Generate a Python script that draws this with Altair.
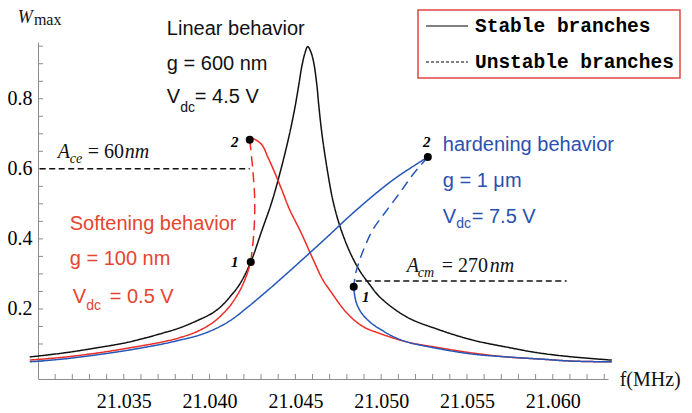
import altair as alt
import pandas as pd

# ---------------- data ----------------
black_f = [21.02952, 21.03145, 21.03343, 21.03535, 21.03727, 21.03826, 21.03925, 21.04019,
           21.04071, 21.04118, 21.04176, 21.04240, 21.04304, 21.04363, 21.04415, 21.04462,
           21.04497, 21.04520, 21.04537, 21.04555, 21.04572, 21.04590, 21.04607, 21.04625,
           21.04636, 21.04654, 21.04683, 21.04718, 21.04759, 21.04817, 21.04875, 21.04934,
           21.04992, 21.05149, 21.05341, 21.05534, 21.05732, 21.05924, 21.06116, 21.06344]
black_w = [0.063, 0.074, 0.089, 0.106, 0.131, 0.146, 0.166, 0.189,
           0.209, 0.234, 0.271, 0.334, 0.423, 0.506, 0.597, 0.691,
           0.774, 0.840, 0.891, 0.929, 0.949, 0.934, 0.903, 0.840,
           0.783, 0.703, 0.606, 0.511, 0.437, 0.363, 0.309, 0.269,
           0.234, 0.177, 0.140, 0.111, 0.091, 0.074, 0.063, 0.054]

red_low_f = [21.02952, 21.03145, 21.03343, 21.03535, 21.03727, 21.03826, 21.03925, 21.04019,
             21.04077, 21.04118, 21.04176, 21.04217, 21.04240]
red_low_w = [0.054, 0.062, 0.074, 0.089, 0.106, 0.118, 0.135, 0.161,
             0.186, 0.208, 0.252, 0.298, 0.334]
red_unst_f = [21.04240, 21.04258, 21.04263, 21.04252, 21.04234]
red_unst_w = [0.334, 0.417, 0.511, 0.597, 0.683]
red_up_f = [21.04234, 21.04252, 21.04304, 21.04339, 21.04380, 21.04421, 21.04467, 21.04531,
            21.04599, 21.04660, 21.04700, 21.04799, 21.04893, 21.04992, 21.05149, 21.05341,
            21.05534, 21.05732, 21.05924, 21.06116, 21.06344]
red_up_w = [0.683, 0.686, 0.669, 0.634, 0.589, 0.540, 0.483, 0.420,
            0.346, 0.283, 0.254, 0.189, 0.150, 0.130, 0.106, 0.089,
            0.074, 0.063, 0.057, 0.051, 0.049]

blue_up_f = [21.02952, 21.03145, 21.03343, 21.03535, 21.03727, 21.03826, 21.03925, 21.04019,
             21.04118, 21.04217, 21.04310, 21.04409, 21.04584, 21.04700, 21.04800, 21.04916,
             21.05020, 21.05108, 21.05196, 21.05272]
blue_up_w = [0.049, 0.057, 0.069, 0.083, 0.100, 0.111, 0.123, 0.140,
             0.166, 0.203, 0.241, 0.283, 0.360, 0.412, 0.458, 0.508,
             0.550, 0.582, 0.610, 0.634]
blue_unst_f = [21.05272, 21.05184, 21.05108, 21.05021, 21.04951, 21.04904, 21.04875, 21.04852, 21.04840]
blue_unst_w = [0.634, 0.583, 0.531, 0.474, 0.426, 0.377, 0.340, 0.303, 0.263]
blue_low_f = [21.04840, 21.04846, 21.04858, 21.04882, 21.04916, 21.04957, 21.04992, 21.05062,
              21.05149, 21.05341, 21.05534, 21.05732, 21.05924, 21.06116, 21.06344]
blue_low_w = [0.263, 0.237, 0.214, 0.191, 0.171, 0.154, 0.143, 0.123,
              0.106, 0.086, 0.071, 0.063, 0.057, 0.051, 0.049]

ace_f = [21.0301, 21.04234]
ace_w = [0.60, 0.60]
acm_f = [21.04852, 21.06081]
acm_w = [0.28, 0.28]

pts_f = [21.04240, 21.04234, 21.04840, 21.05272]
pts_w = [0.334, 0.683, 0.263, 0.634]
pts_text = ["1", "2", "1", "2"]
pts_lab_f = [21.04147, 21.04147, 21.04910, 21.05266]
pts_lab_w = [0.334, 0.677, 0.234, 0.677]

x_labels = [21.035, 21.040, 21.045, 21.050, 21.055, 21.060]
y_labels = [0.2, 0.4, 0.6, 0.8]
x_minor = [round(21.031 + 0.001 * i, 3) for i in range(33)]
y_minor = [round(0.05 * i, 2) for i in range(1, 20)]

legend_names = ["Stable branches", "Unstable branches"]

# annotation texts: (text, f, W)
txt_black = [("Linear behavior", 21.03751, 0.983), ("g = 600 nm", 21.03751, 0.883),
             ("V", 21.03751, 0.789), ("= 4.5 V", 21.03914, 0.789)]
sub_black = [("dc", 21.03829, 0.763)]
txt_red = [("Softening behavior", 21.03185, 0.426), ("g = 100 nm", 21.03185, 0.326),
           ("V", 21.03203, 0.217), ("= 0.5 V", 21.03418, 0.217)]
sub_red = [("dc", 21.03281, 0.197)]
txt_blue = [("hardening behavior", 21.05359, 0.651), ("g = 1 μm", 21.05359, 0.549),
            ("V", 21.05359, 0.446), ("= 7.5 V", 21.05528, 0.446)]
sub_blue = [("dc", 21.05438, 0.431)]
serif_it = [("A", 21.03115, 0.631), ("nm", 21.03506, 0.631),
            ("A", 21.05149, 0.306), ("nm", 21.05633, 0.306)]
serif_it_sub = [("ce", 21.03185, 0.617), ("cm", 21.05213, 0.291)]
serif_up = [("= 60", 21.0329, 0.631), ("= 270", 21.05353, 0.306), ("f(MHz)", 21.06390, -0.02)]
wmax_w = [("W", 21.02882, 1.017)]
wmax_sub = [("max", 21.02976, 1.011)]

# ---------------- build ----------------
W_PX, H_PX = 570, 337
RED, BLUE, BLACK = "#ee2b24", "#2457b8", "#111111"
RED_T, BLUE_T = "#e5452f", "#2b50b0"
AXIS_C = "#8c8c8c"

xscale = alt.Scale(domain=[21.030, 21.06322], nice=False, zero=False)
yscale = alt.Scale(domain=[0, 0.962], nice=False, zero=False)
xaxis = alt.Axis(values=x_labels, format=".3f", labelFont="Liberation Serif", labelFontSize=20,
                 labelColor="black", ticks=False, tickSize=0, domainColor=AXIS_C,
                 labelPadding=12, grid=False, labelFlush=False, labelOverlap=False)
yaxis = alt.Axis(values=y_labels, format=".1f", labelFont="Liberation Serif", labelFontSize=20,
                 labelColor="black", ticks=False, tickSize=0, domainColor=AXIS_C,
                 labelPadding=6, grid=False, labelFlush=False, labelOverlap=False)
X = alt.X("f:Q", scale=xscale, axis=xaxis, title=None)
Y = alt.Y("W:Q", scale=yscale, axis=yaxis, title=None)

rows = []
def add(seg, curve, style, fs, ws):
    for i, (f, w) in enumerate(zip(fs, ws)):
        rows.append(dict(f=f, W=w, seg=seg, curve=curve, style=style, i=i))

add("black", "black", "solid", black_f, black_w)
add("red_low", "red", "solid", red_low_f, red_low_w)
add("red_unst", "red", "dashed", red_unst_f, red_unst_w)
add("red_up", "red", "solid", red_up_f, red_up_w)
add("blue_up", "blue", "solid", blue_up_f, blue_up_w)
add("blue_unst", "blue", "dashed", blue_unst_f, blue_unst_w)
add("blue_low", "blue", "solid", blue_low_f, blue_low_w)
add("ace", "black", "ref", ace_f, ace_w)
add("acm", "black", "ref", acm_f, acm_w)
df = pd.DataFrame(rows)

curves = alt.Chart(df).mark_line(interpolate="catmull-rom", strokeWidth=1.5, clip=False).encode(
    x=X, y=Y,
    color=alt.Color("curve:N", scale=alt.Scale(domain=["black", "red", "blue"], range=[BLACK, RED, BLUE]), legend=None),
    strokeDash=alt.StrokeDash("style:N", scale=alt.Scale(domain=["solid", "dashed", "ref"],
                                                          range=[[1, 0], [10, 6], [6, 3.5]]), legend=None),
    detail="seg:N",
    order="i:Q",
)

xt = alt.Chart(pd.DataFrame({"f": x_minor})).mark_rule(color=AXIS_C, strokeWidth=1).encode(
    x=X, y=alt.value(H_PX), y2=alt.value(H_PX - 5))
yt = alt.Chart(pd.DataFrame({"W": y_minor})).mark_rule(color=AXIS_C, strokeWidth=1).encode(
    y=Y, x=alt.value(0), x2=alt.value(5))

pts = alt.Chart(pd.DataFrame({"f": pts_f, "W": pts_w})).mark_circle(size=64, color="black", opacity=1).encode(x=X, y=Y)
pts_lab = alt.Chart(pd.DataFrame({"f": pts_lab_f, "W": pts_lab_w, "t": pts_text})).mark_text(
    font="Liberation Serif", fontSize=15, fontStyle="italic", fontWeight="bold", color="black",
    align="center", baseline="middle").encode(x=X, y=Y, text="t:N")


def tl(items, font, size, color, style="normal", weight="normal", align="left"):
    d = pd.DataFrame(items, columns=["t", "f", "W"])
    return alt.Chart(d).mark_text(font=font, fontSize=size, color=color, fontStyle=style,
                                  fontWeight=weight, align=align, baseline="alphabetic").encode(
        x=X, y=Y, text="t:N")

SANS = "Liberation Sans"
SERIF = "Liberation Serif"
texts = [
    tl(txt_black, SANS, 20, BLACK), tl(sub_black, SANS, 14, BLACK),
    tl(txt_red, SANS, 20, RED_T), tl(sub_red, SANS, 14, RED_T),
    tl(txt_blue, SANS, 20, BLUE_T), tl(sub_blue, SANS, 14, BLUE_T),
    tl(serif_it, SERIF, 20, BLACK, style="italic"), tl(serif_it_sub, SERIF, 14, BLACK, style="italic"),
    tl(serif_up, SERIF, 20, BLACK), tl(wmax_w, SERIF, 18, BLACK, style="italic"),
    tl(wmax_sub, SERIF, 16, BLACK),
]

leg_df = pd.DataFrame({"f": [21.04, 21.041], "W": [0.5, 0.5], "branch": legend_names})
legend_layer = alt.Chart(leg_df).mark_line(color="black", strokeWidth=1.2).encode(
    x=X, y=Y,
    detail="branch:N",
    strokeDash=alt.StrokeDash("branch:N", scale=alt.Scale(domain=legend_names, range=[[1, 0], [3, 2]]),
                              legend=alt.Legend(title=None, orient="none", legendX=380, legendY=-32,
                                                strokeColor="#e5463f", fillColor="white", padding=6,
                                                labelFont="Liberation Mono", labelFontWeight="bold",
                                                labelFontSize=19.5, labelColor="black", labelLimit=400,
                                                symbolType="M-2.33,0H2.33", symbolSize=324,
                                                symbolOffset=13,
                                                symbolStrokeWidth=1.2, symbolStrokeColor="black",
                                                labelOffset=18, rowPadding=16)),
)

chart = alt.layer(xt, yt, curves, pts, pts_lab, *texts, legend_layer).resolve_scale(
    strokeDash="independent"
).properties(
    width=W_PX, height=H_PX,
    padding={"left": 30, "top": 34, "right": 76, "bottom": 32},
    autosize=alt.AutoSizeParams(type="none"),
    background="white",
).configure_view(stroke=None).configure_legend(strokeWidth=1.5)

chart.save("out.html", embed_options={"renderer": "svg", "actions": False})
